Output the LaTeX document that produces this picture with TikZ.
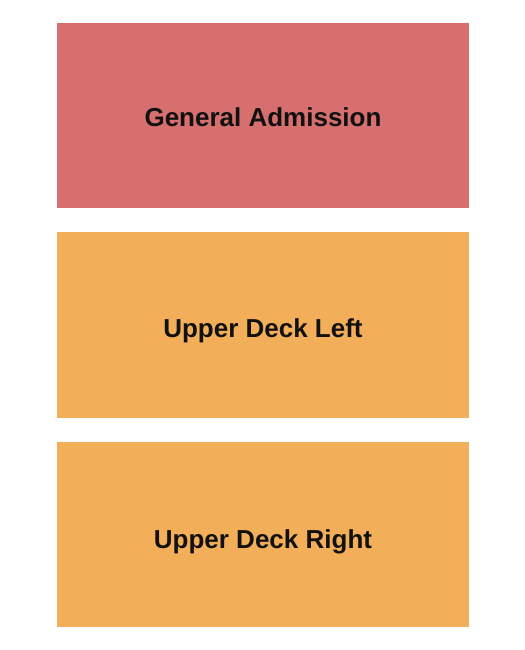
\documentclass[tikz,border=0pt]{standalone}
\usepackage{fontspec}
\setmainfont{Liberation Sans}
\definecolor{garead}{HTML}{D76F6E}
\definecolor{deckorange}{HTML}{F3AE5A}
\definecolor{labelink}{HTML}{111111}
\begin{document}
\begin{tikzpicture}[x=1bp,y=-1bp,
  section/.style={draw=none,inner sep=0pt,outer sep=0pt},
  seclabel/.style={anchor=base,inner sep=0pt,text=labelink,font=\fontsize{26bp}{30bp}\selectfont\bfseries}]
\useasboundingbox (0,0) rectangle (525,650);
\fill[white] (0,0) rectangle (525,650);
\fill[garead] (57,23) rectangle (469,208);
\fill[deckorange] (57,232) rectangle (469,418);
\fill[deckorange] (57,442) rectangle (469,627);
\node[seclabel] (ga) at (263,127) {General Admission};
\node[seclabel] (udl) at (263,337) {Upper Deck Left};
\node[seclabel] (udr) at (263,548) {Upper Deck Right};
\end{tikzpicture}
\end{document}
